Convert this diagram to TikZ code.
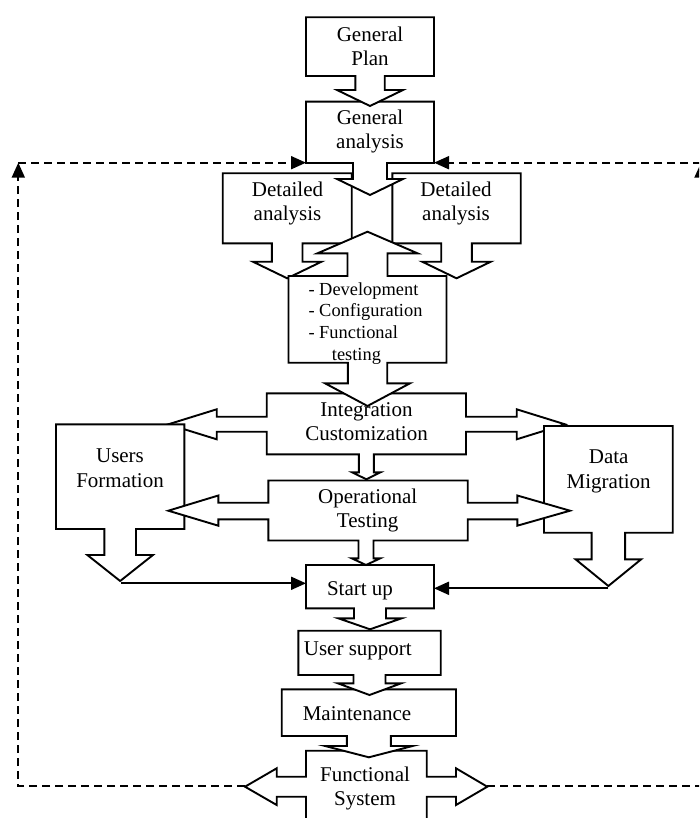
\documentclass[tikz,border=0pt]{standalone}
\usepackage{fontspec}
\setmainfont{Liberation Serif}
\usetikzlibrary{arrows.meta}

% Rectangle with a down-pointing arrow callout under it.
% #1 left, #2 top, #3 right, #4 bottom, #5 shaft half width,
% #6 shaft end, #7 head half width, #8 tip
\newcommand{\dncallout}[8]{%
  \pgfmathsetmacro{\cxm}{(#1+#3)/2}%
  \filldraw[blk] (#1,#2) -- (#3,#2) -- (#3,#4) -- (\cxm+#5,#4) -- (\cxm+#5,#6)
    -- (\cxm+#7,#6) -- (\cxm,#8) -- (\cxm-#7,#6) -- (\cxm-#5,#6)
    -- (\cxm-#5,#4) -- (#1,#4) -- cycle;}

% Two centred lines whose baseline is the first line's baseline
\newcommand{\twolines}[2]{\begin{tabular}[t]{@{}c@{}}#1\\#2\end{tabular}}

\tikzset{
  blk/.style={draw=black, fill=white, line width=1.9pt, line join=miter},
  txt/.style={inner sep=0pt, anchor=base, font=\fontsize{21}{24}\selectfont},
  smalltxt/.style={inner sep=0pt, anchor=base west, font=\fontsize{18.4}{21.7}\selectfont},
  feedback/.style={line width=1.9pt, dash pattern=on 8pt off 5pt,
    -{Triangle[length=15pt,width=13pt]}},
  link/.style={line width=1.9pt, -{Triangle[length=15pt,width=13pt]}}
}

\begin{document}
\begin{tikzpicture}[x=1pt,y=-1pt]
\useasboundingbox (0,0) rectangle (699,818);
\clip (0,0) rectangle (699,818);

% Functional system (double arrow left/right)
\filldraw[blk] (306,750.7) -- (426.7,750.7) -- (426.7,776.7) -- (456,776.7) -- (456,768.3)
  -- (487.3,786.7) -- (456,805) -- (456,796.7) -- (426.7,796.7) -- (426.7,823)
  -- (306,823) -- (306,796.7) -- (276.7,796.7) -- (276.7,805) -- (245,786.7)
  -- (276.7,768.3) -- (276.7,776.7) -- (306,776.7) -- cycle;

% Lower chain
\dncallout{281.7}{689.3}{456}{736}{22}{746}{43.7}{757.3}
\dncallout{298.3}{630.7}{440.7}{675}{16}{683.3}{31.7}{695}
\dncallout{306}{565}{434}{608.3}{16}{618.3}{31.7}{629.3}

% Integration / Customization
\filldraw[blk] (266.7,393.3) -- (466,393.3) -- (466,416.7) -- (516.7,416.7) -- (516.7,409.3)
  -- (565,424.3) -- (516.7,439.3) -- (516.7,431.7) -- (466,431.7) -- (466,454.3)
  -- (373.8,454.3) -- (373.8,472.3) -- (380.5,472.3) -- (366.3,479.3) -- (352.1,472.3)
  -- (358.8,472.3) -- (358.8,454.3) -- (266.7,454.3) -- (266.7,431.7) -- (216.7,431.7)
  -- (216.7,439.3) -- (168.3,424.3) -- (216.7,409.3) -- (216.7,416.7) -- (266.7,416.7) -- cycle;

% Side boxes
\dncallout{56}{424.3}{184.3}{529}{15.8}{555}{32.8}{581}
\dncallout{544}{426}{672.7}{532.7}{16.7}{559.3}{32.8}{586}

% Operational testing
\filldraw[blk] (268.3,480.5) -- (467.7,480.5) -- (467.7,502.7) -- (517.3,502.7) -- (517.3,495.5)
  -- (570,510.7) -- (517.3,525.7) -- (517.3,519.3) -- (467.7,519.3) -- (467.7,540.5)
  -- (373.5,540.5) -- (373.5,558.3) -- (380.3,558.3) -- (366,565) -- (351.7,558.3)
  -- (358.5,558.3) -- (358.5,540.5) -- (268.3,540.5) -- (268.3,519.3) -- (218.3,519.3)
  -- (218.3,525.7) -- (168.3,510.7) -- (218.3,495.5) -- (218.3,502.7) -- (268.3,502.7) -- cycle;

% Detailed analysis boxes
\dncallout{222.7}{173.3}{351.7}{243.3}{15.3}{261.7}{34.3}{278.3}
\dncallout{392.3}{173.3}{520.7}{243.3}{15.3}{261.7}{34.3}{278.3}

% Development box: arrow up on top, arrow down below
\filldraw[blk] (288.5,276) -- (347.5,276) -- (347.5,253.3) -- (317.5,253.3) -- (367.5,231.7)
  -- (417.5,253.3) -- (387.5,253.3) -- (387.5,276) -- (446.5,276) -- (446.5,362.7)
  -- (387.2,362.7) -- (387.2,383.3) -- (410,383.3) -- (367.5,406) -- (325,383.3)
  -- (347.8,383.3) -- (347.8,362.7) -- (288.5,362.7) -- cycle;

% Top chain
\dncallout{306}{101.7}{434}{163}{17}{179}{33}{195}
\dncallout{306}{17.3}{434}{76}{14.7}{90}{33}{106}

% Texts
\node[txt] (tplan) at (370,41.7) {\twolines{General}{Plan}};
\node[txt] (tgen) at (370,125) {\twolines{General}{analysis}};
\node[txt] (tdetl) at (287.5,196.7) {\twolines{Detailed}{analysis}};
\node[txt] (tdetr) at (456,196.7) {\twolines{Detailed}{analysis}};
\node[smalltxt] (tdev) at (308.3,295) {\begin{tabular}[t]{@{}l@{}}- Development\\- Configuration\\- Functional\\\hspace*{23.4pt}testing\end{tabular}};
\node[txt] (tint) at (366.5,416) {\twolines{Integration}{Customization}};
\node[txt, font=\fontsize{21}{25.8}\selectfont] (tusers) at (120,462) {\twolines{Users}{Formation}};
\node[txt, font=\fontsize{21}{25.6}\selectfont] (tdata) at (608.7,463.3) {\twolines{Data}{Migration}};
\node[txt] (top) at (367.7,503.3) {\twolines{Operational}{Testing}};
\node[txt] (tstart) at (360,595.7) {Start up};
\node[txt] (tsupp) at (357.8,655) {User support};
\node[txt] (tmaint) at (357,720.7) {Maintenance};
\node[txt, font=\fontsize{21}{23.4}\selectfont] (tfunc) at (365,781.7) {\twolines{Functional}{System}};

% Connector end points
\coordinate (ufTip) at (121,583.3);
\coordinate (suL) at (306,583.3);
\coordinate (dmTip) at (608.3,588.3);
\coordinate (suR) at (434,588.3);
\coordinate (fsL) at (245,786.3);
\coordinate (fsR) at (487.3,786.3);
\coordinate (cornerL) at (18.3,162.7);
\coordinate (cornerR) at (701,162.7);
\coordinate (gaL) at (306,162.7);
\coordinate (gaR) at (434,162.7);

% Feeds into start up
\draw[link] (ufTip) -- (suL);
\draw[link] (dmTip) -- (suR);

% Feedback loops back to general analysis
\draw[feedback] (fsL) -| (cornerL);
\draw[feedback] (cornerL) -- (gaL);
\draw[feedback] (fsR) -| (cornerR);
\draw[feedback] (cornerR) -- (gaR);
\end{tikzpicture}
\end{document}
